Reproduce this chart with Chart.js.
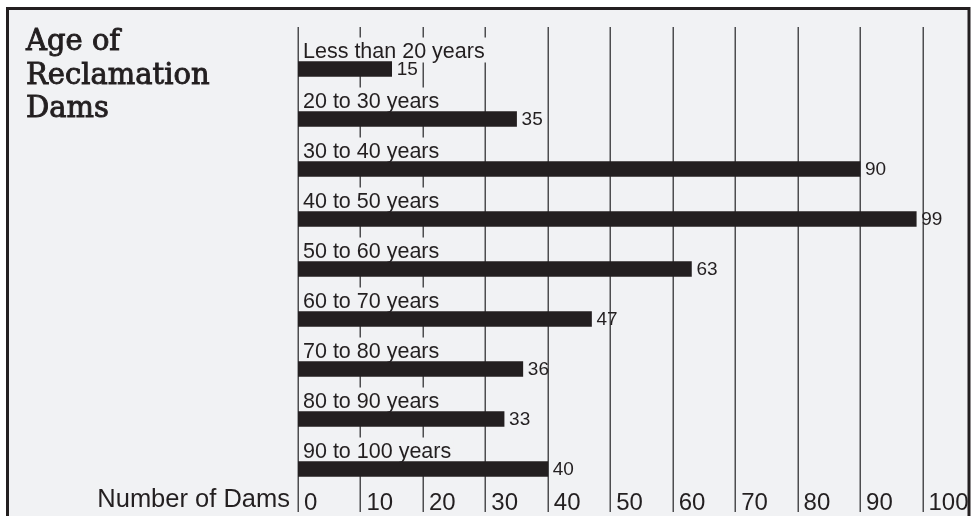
<!DOCTYPE html>
<html>
<head>
<meta charset="utf-8">
<script src="https://cdn.jsdelivr.net/npm/chart.js@4/dist/chart.umd.min.js"></script>
<style>
html, body { margin: 0; padding: 0; background: #ffffff; }
#wrap { width: 975px; height: 516px; }
</style>
</head>
<body>
<div id="wrap"><canvas id="chart" width="975" height="516"></canvas></div>
<script>
// values
const categories = ["Less than 20 years", "20 to 30 years", "30 to 40 years", "40 to 50 years",
	"50 to 60 years", "60 to 70 years", "70 to 80 years", "80 to 90 years", "90 to 100 years"];
const dams = [15, 35, 90, 99, 63, 47, 36, 33, 40];
const xTicks = [0, 10, 20, 30, 40, 50, 60, 70, 80, 90, 100];
const titleLines = ["Age of", "Reclamation", "Dams"];
const axisTitle = "Number of Dams";

const ink = "#231f20";
const paper = "#f1f2f4";
const sans = "'Liberation Sans', Arial, sans-serif";

const decor = {
	id: "decor",
	beforeDraw(chart){
		let ctx = chart.ctx;
		let x = chart.scales.x;
		let y = chart.scales.y;
		ctx.save();
		ctx.fillStyle = "#ffffff";
		ctx.fillRect(0, 0, chart.width, chart.height);
		ctx.fillStyle = paper;
		ctx.fillRect(7.5, 8.5, 961.5, 520);

		// vertical grid
		ctx.strokeStyle = "#4d4d4f";
		ctx.lineWidth = 1.5;
		for(let i = 0; i < xTicks.length; i++){
			let px = Math.round(x.getPixelForValue(xTicks[i])) + 0.25;
			ctx.beginPath();
			ctx.moveTo(px, 27);
			ctx.lineTo(px, 512);
			ctx.stroke();
		}

		// category labels sit on a paper box that hides the grid
		ctx.font = "21.5px " + sans;
		ctx.textBaseline = "alphabetic";
		ctx.textAlign = "left";
		for(let i = 0; i < categories.length; i++){
			let cy = y.getPixelForValue(i);
			let base = cy - 11.5;
			let x0 = x.getPixelForValue(0) + 5;
			let w = ctx.measureText(categories[i]).width;
			ctx.fillStyle = paper;
			ctx.fillRect(x0 - 4, base - 20, w + 6, 25);
			ctx.fillStyle = ink;
			ctx.fillText(categories[i], x0, base);
		}
		ctx.restore();
	},
	afterDraw(chart){
		let ctx = chart.ctx;
		let x = chart.scales.x;
		let y = chart.scales.y;
		ctx.save();
		ctx.fillStyle = ink;

		// value labels
		ctx.font = "19px " + sans;
		ctx.textAlign = "left";
		ctx.textBaseline = "middle";
		for(let i = 0; i < dams.length; i++){
			ctx.fillText(String(dams[i]), x.getPixelForValue(dams[i]) + 5, y.getPixelForValue(i) + 1);
		}

		// x tick labels
		ctx.font = "24px " + sans;
		ctx.textBaseline = "alphabetic";
		for(let i = 0; i < xTicks.length; i++){
			ctx.fillText(String(xTicks[i]), x.getPixelForValue(xTicks[i]) + 6, 510);
		}
		ctx.textAlign = "right";
		ctx.font = "25.5px " + sans;
		ctx.fillText(axisTitle, 290, 507);

		// title, thickened a little with a stroke
		ctx.textAlign = "left";
		ctx.font = "29px 'DejaVu Serif', serif";
		ctx.strokeStyle = ink;
		ctx.lineWidth = 0.9;
		for(let i = 0; i < titleLines.length; i++){
			ctx.fillText(titleLines[i], 26, 50 + i * 33.5);
			ctx.strokeText(titleLines[i], 26, 50 + i * 33.5);
		}

		// frame
		ctx.lineWidth = 3;
		ctx.strokeRect(7.5, 8.5, 961.5, 540);
		ctx.restore();
	}
};

let ctx = document.getElementById("chart").getContext("2d");
let chart = new Chart(ctx, {
	type: "bar",
	data: {
		labels: categories,
		datasets: [{
			data: dams,
			backgroundColor: ink,
			borderWidth: 0,
			barThickness: 15
		}]
	},
	options: {
		indexAxis: "y",
		responsive: false,
		animation: false,
		layout: { padding: { left: 298, right: 52.5, top: 44, bottom: 22 } },
		scales: {
			x: { display: false, min: 0, max: 100 },
			y: { display: false }
		},
		plugins: {
			legend: { display: false },
			tooltip: { enabled: false }
		}
	},
	plugins: [decor]
});
</script>
</body>
</html>
